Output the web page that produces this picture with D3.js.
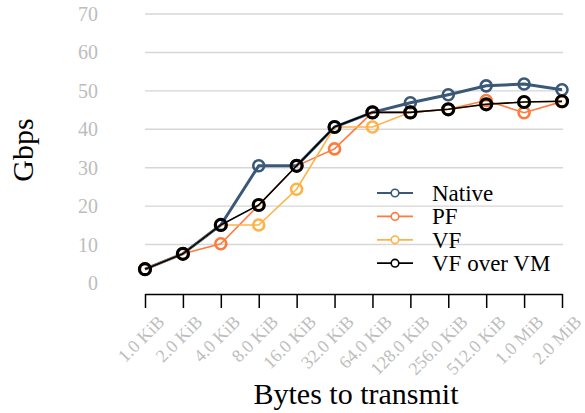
<!DOCTYPE html>
<html>
<head>
<meta charset="utf-8">
<script src="https://cdn.jsdelivr.net/npm/d3@7"></script>
<style>
  body { margin: 0; background: #fff; }
  text { font-family: "Liberation Serif", "Times New Roman", serif; }
</style>
</head>
<body>
<div id="chart"></div>
<script>
// data
const sizes = ["1.0 KiB", "2.0 KiB", "4.0 KiB", "8.0 KiB", "16.0 KiB", "32.0 KiB",
               "64.0 KiB", "128.0 KiB", "256.0 KiB", "512.0 KiB", "1.0 MiB", "2.0 MiB"]
const native   = [3.6, 7.6, 15.1, 30.5, 30.5, 40.6, 44.4, 46.9, 49.0, 51.3, 51.8, 50.3]
const pf       = [3.6, 7.6, 10.2, 20.3, 30.5, 34.9, 44.4, 44.4, 45.2, 47.5, 44.3, 47.2]
const vf       = [3.6, 7.6, 15.1, 15.1, 24.4, 40.6, 40.6, 44.4, 45.2, 46.5, 47.1, 47.3]
const vfOverVm = [3.6, 7.6, 15.1, 20.3, 30.5, 40.6, 44.4, 44.4, 45.2, 46.5, 47.1, 47.3]
const yTicks = [0, 10, 20, 30, 40, 50, 60, 70]

const series = [
    {name: "Native", values: native, color: "#3a5878", lw: 3, mw: 2.6},
    {name: "PF", values: pf, color: "#ff7a3d", lw: 1.6, mw: 2.6},
    {name: "VF", values: vf, color: "#ffb347", lw: 1.6, mw: 2.6},
    {name: "VF over VM", values: vfOverVm, color: "#000000", lw: 1.6, mw: 3.2}
]

width = 585
height = 413
svg = d3.select("#chart")
        .append("svg")
        .attr("width", width)
        .attr("height", height)

x = d3.scalePoint().domain(sizes).range([145, 562])
y = d3.scaleLinear().domain([0, 70]).range([283, 14])

// grid
svg.append("g")
    .selectAll("line")
    .data(yTicks.slice(1))
    .join("line")
        .attr("x1", 145).attr("x2", 563)
        .attr("y1", d => y(d)).attr("y2", d => y(d))
        .attr("stroke", "#d6d6d6")
        .attr("stroke-width", 1.4)

// y tick labels
svg.append("g")
    .selectAll("text")
    .data(yTicks)
    .join("text")
        .attr("x", 98)
        .attr("y", d => y(d))
        .attr("dy", "0.35em")
        .attr("text-anchor", "end")
        .attr("fill", "#bdbdbd")
        .style("font-size", "20px")
        .text(d => d)

// x axis
xAxis = svg.append("g")
    .attr("transform", "translate(0,294)")
    .call(d3.axisBottom(x).tickSize(14).tickSizeOuter(0).tickPadding(0))
xAxis.select(".domain").attr("stroke", "#000").attr("stroke-width", 1.5)
xAxis.selectAll(".tick line").attr("stroke", "#000").attr("stroke-width", 1.5)
xAxis.selectAll(".tick text")
    .attr("fill", "#bdbdbd")
    .style("font-size", "18px")
    .style("font-family", "Liberation Serif, serif")
    .attr("text-anchor", "end")
    .attr("transform", "translate(20,29) rotate(-45)")
    .attr("y", 0)
    .attr("dy", 0)

// series
line = d3.line().x((d, i) => x(sizes[i])).y(d => y(d))
series.forEach(s => {
    g = svg.append("g")
    g.append("path")
        .datum(s.values)
        .attr("fill", "none")
        .attr("stroke", s.color)
        .attr("stroke-width", s.lw)
        .attr("d", line)
    g.selectAll("circle")
        .data(s.values)
        .join("circle")
            .attr("cx", (d, i) => x(sizes[i]))
            .attr("cy", d => y(d))
            .attr("r", 5.5)
            .attr("fill", "none")
            .attr("stroke", s.color)
            .attr("stroke-width", s.mw)
})

// legend
legend = svg.append("g")
series.forEach((s, i) => {
    ly = 193 + i * 23.4
    legend.append("line")
        .attr("x1", 377).attr("x2", 413)
        .attr("y1", ly).attr("y2", ly)
        .attr("stroke", s.color)
        .attr("stroke-width", 1.8)
    legend.append("circle")
        .attr("cx", 395).attr("cy", ly).attr("r", 3.8)
        .attr("fill", "#fff")
        .attr("stroke", s.color)
        .attr("stroke-width", 1.6)
    legend.append("text")
        .attr("x", 432).attr("y", ly + 8)
        .style("font-size", "23px")
        .attr("fill", "#000")
        .text(s.name)
})

// axis titles
svg.append("text")
    .attr("x", 356).attr("y", 404)
    .attr("text-anchor", "middle")
    .style("font-size", "30px")
    .text("Bytes to transmit")

svg.append("text")
    .attr("transform", "translate(33,150) rotate(-90)")
    .attr("text-anchor", "middle")
    .style("font-size", "30px")
    .text("Gbps")
</script>
</body>
</html>
